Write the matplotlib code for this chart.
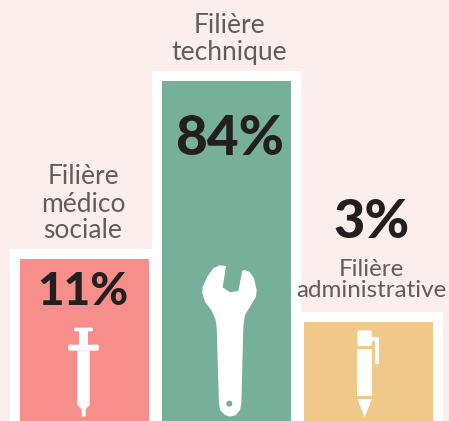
import matplotlib
matplotlib.use("Agg")
import matplotlib.pyplot as plt
from matplotlib.patches import Polygon, Circle, FancyBboxPatch

plt.rcParams['font.family'] = ['Lato', 'DejaVu Sans']

# bar heights as measured in the picture (the original is not proportional)
labels = ["Filière\nmédico\nsociale", "Filière\ntechnique", "Filière\nadministrative"]
percents = ["11%", "84%", "3%"]
heights = [162, 340, 99]
colors = ["#f68e89", "#77b09a", "#efc88a"]

BG = "#fdeeee"
W, H = 449, 421

fig = plt.figure(figsize=(W / 100, H / 100), dpi=100, facecolor=BG)
ax = fig.add_axes([0, 0, 1, 1])
ax.set_xlim(0, W)
ax.set_ylim(0, H)
ax.axis("off")

lefts = [20, 162, 304]
bar_w = 129
border_l = [10, 152, 301]
border_r = [152, 301, 443]
for i in range(3):
    ax.bar(border_l[i], heights[i] + 10, width=border_r[i] - border_l[i], align='edge', color="white", zorder=1)
for i in range(3):
    ax.bar(lefts[i], heights[i], width=bar_w, align='edge', color=colors[i], zorder=2)

dark = "#231f20"
grey = "#625c5b"
ax.text(83, H - 292, percents[0], ha='center', va='center', fontsize=33, fontweight='black', color=dark, zorder=4)
ax.text(230, H - 139, percents[1], ha='center', va='center', fontsize=39.5, fontweight='black', color=dark, zorder=4)
ax.text(372, H - 223, percents[2], ha='center', va='center', fontsize=39, fontweight='black', color=dark, zorder=4)

ax.text(83, H - 204, labels[0], ha='center', va='center', fontsize=19, color=grey, linespacing=1.1)
ax.text(229.5, H - 39, labels[1], ha='center', va='center', fontsize=19, color=grey, linespacing=1.1)
ax.text(371.5, H - 280, labels[2], ha='center', va='center', fontsize=17.4, color=grey, linespacing=1.03)


# icons: shapes traced in 3x zoom coordinates
def pts(lst, ox, oy):
    return [(ox + x / 3, H - (oy + y / 3)) for x, y in lst]


def rbox(x0, y0, x1, y1, ox, oy, r=1.5):
    a = pts([(x0, y1)], ox, oy)[0]
    w = (x1 - x0) / 3
    h = (y1 - y0) / 3
    ax.add_patch(FancyBboxPatch((a[0] + r, a[1] + r), w - 2 * r, h - 2 * r,
                                boxstyle="round,pad=%f" % r, fc="white", ec="none", zorder=3))


# syringe
rbox(222, 263, 279, 274, 0, 240)
ax.add_patch(Polygon(pts([(238, 274), (264, 274), (264, 314), (238, 314)], 0, 240), fc="white", ec="none", zorder=3))
rbox(204, 314, 297, 332, 0, 240, r=2)
ax.add_patch(Polygon(pts([(232, 332), (269, 332), (269, 495), (257, 508), (257, 530), (245, 530), (245, 508), (232, 495)], 0, 240),
                     fc="white", ec="none", zorder=3))

# wrench
wrench = [(228, 78), (208, 76), (190, 85), (172, 110), (158, 140), (157, 160), (165, 185), (185, 212), (197, 240),
          (200, 260), (207, 490), (210, 510), (225, 525), (240, 530), (258, 525), (270, 510), (274, 490), (280, 260),
          (285, 225), (300, 200), (318, 170), (320, 150), (312, 115), (300, 97), (285, 90), (277, 92), (265, 153),
          (240, 157), (218, 142)]
ax.add_patch(Polygon(pts(wrench, 150, 240), fc="white", ec="none", zorder=3))
ax.add_patch(Circle(pts([(238, 491)], 150, 240)[0], 3, fc=colors[1], ec="none", zorder=4))

# pen
rbox(187, 91, 231, 138, 295, 300, r=2.5)
rbox(240, 112, 252, 193, 295, 300, r=1.5)
ax.add_patch(Polygon(pts([(225, 112), (250, 112), (250, 122), (225, 122)], 295, 300), fc="white", ec="none", zorder=3))
ax.add_patch(Polygon(pts([(187, 146), (231, 146), (231, 288), (187, 288)], 295, 300), fc="white", ec="none", zorder=3))
ax.add_patch(Polygon(pts([(187, 297), (231, 297), (209, 352)], 295, 300), fc="white", ec="none", zorder=3))

fig.savefig("out.png", dpi=100, facecolor=BG)
